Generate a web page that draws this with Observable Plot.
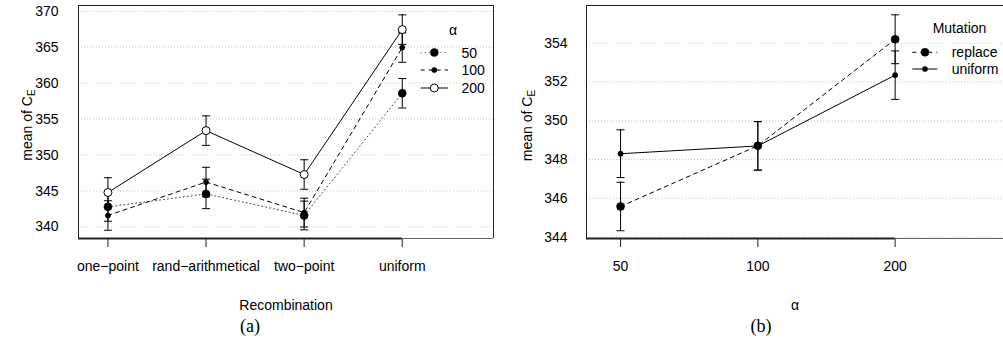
<!DOCTYPE html>
<html>
<head>
<meta charset="utf-8">
<script src="https://cdn.jsdelivr.net/npm/d3@7"></script>
<script src="https://cdn.jsdelivr.net/npm/@observablehq/plot@0.6"></script>
<style>
  html, body { margin: 0; padding: 0; background: white; overflow: hidden; }
  #wrap { position: relative; width: 1003px; height: 347px; overflow: hidden; background: white; }
  #wrap svg { position: absolute; top: 0; }
</style>
</head>
<body>
<div id="wrap"></div>
<script>
// ---------- data (a) ----------
const recombination = ["one−point", "rand−arithmetical", "two−point", "uniform"];
const mean50  = [342.8, 344.6, 341.6, 358.6];
const mean100 = [341.6, 346.25, 342.0, 364.95];
const mean200 = [344.8, 353.4, 347.3, 367.45];
const err50   = [2.0, 2.05, 2.0, 2.05];
const err100  = [2.05, 2.05, 2.0, 2.05];
const err200  = [2.05, 2.05, 2.05, 2.05];
const yTicksA = [340, 345, 350, 355, 360, 365, 370];
const legendA = ["50", "100", "200"];

// ---------- data (b) ----------
const alphaLevels = ["50", "100", "200"];
const meanReplace = [345.58, 348.71, 354.2];
const meanUniform = [348.3, 348.7, 352.35];
const errReplace  = [1.25, 1.25, 1.26];
const errUniform  = [1.23, 1.25, 1.25];
const yTicksB = [344, 346, 348, 350, 352, 354];
const legendB = ["replace", "uniform"];

const FONT = "'Liberation Sans', Arial, Helvetica, sans-serif";
const SERIF = "'Liberation Serif', 'DejaVu Serif', serif";

const rows = (means, errs) => means.map((m, i) => ({x: i + 1, y: m, lo: m - errs[i], hi: m + errs[i]}));
const capSym = {draw(ctx, size) { const w = Math.sqrt(size / Math.PI); ctx.moveTo(-w, 0); ctx.lineTo(w, 0); }};

function errorBars(data) {
  return [
    Plot.ruleX(data, {x: "x", y1: "lo", y2: "hi", stroke: "black", strokeWidth: 1}),
    Plot.dot(data, {x: "x", y: "lo", symbol: capSym, r: 4, stroke: "black", fill: "none", strokeWidth: 1}),
    Plot.dot(data, {x: "x", y: "hi", symbol: capSym, r: 4, stroke: "black", fill: "none", strokeWidth: 1})
  ];
}

function frameMarks(xd, yd, lastTick, rightSide) {
  const m = [
    Plot.ruleY([yd[1]], {x1: xd[0], x2: xd[1], stroke: "#222", strokeWidth: 1}),
    Plot.ruleY([yd[0]], {x1: xd[0], x2: xd[1], stroke: "#666", strokeWidth: 1}),
    Plot.ruleY([yd[0]], {x1: xd[0], x2: lastTick, stroke: "#222", strokeWidth: 2}),
    Plot.ruleX([xd[0]], {y1: yd[0], y2: yd[1], stroke: "#222", strokeWidth: 1})
  ];
  if (rightSide) m.push(Plot.ruleX([xd[1]], {y1: yd[0], y2: yd[1], stroke: "#222", strokeWidth: 1}));
  return m;
}

const wrap = document.getElementById("wrap");

// ================= Panel (a) =================
const xdA = [0.70, 4.93], ydA = [338.4, 370.8];
const d50 = rows(mean50, err50), d100 = rows(mean100, err100), d200 = rows(mean200, err200);
const plotA = Plot.plot({
  width: 500, height: 347,
  marginLeft: 78, marginRight: 7, marginTop: 5, marginBottom: 109,
  style: {fontFamily: FONT, fontSize: "14px", background: "white", overflow: "hidden"},
  x: {type: "linear", domain: xdA},
  y: {domain: ydA},
  marks: [
    Plot.gridY(yTicksA, {stroke: "#c8c8c8", strokeOpacity: 1, strokeDasharray: "1,2"}),
    Plot.axisY(yTicksA, {tickSize: 0, tickPadding: 20, fontSize: 14, label: null}),
    Plot.axisX([1, 2, 3, 4], {tickSize: 9, tickPadding: 14, fontSize: 14, label: null,
      tickFormat: i => recombination[i - 1], stroke: "#222"}),
    ...frameMarks(xdA, ydA, 4, true),
    Plot.line(d50,  {x: "x", y: "y", stroke: "#444", strokeWidth: 1, strokeDasharray: "1,3"}),
    Plot.line(d100, {x: "x", y: "y", stroke: "black", strokeWidth: 1, strokeDasharray: "4,4"}),
    Plot.line(d200, {x: "x", y: "y", stroke: "black", strokeWidth: 1}),
    ...errorBars(d50), ...errorBars(d100), ...errorBars(d200),
    Plot.dot(d50,  {x: "x", y: "y", r: 4, fill: "black", stroke: "black", strokeWidth: 0.5}),
    Plot.dot(d100, {x: "x", y: "y", r: 2.6, fill: "black", stroke: "black", strokeWidth: 0.5}),
    Plot.dot(d200, {x: "x", y: "y", r: 4, fill: "white", stroke: "black", strokeWidth: 1})
  ]
});
plotA.style.left = "0px";
wrap.appendChild(plotA);

// ================= Panel (b) =================
// frame continues past the right edge of the picture (cropped in the reference)
const xdB = [0.752, 3.913], ydB = [343.93, 355.94];
const dRep = rows(meanReplace, errReplace), dUni = rows(meanUniform, errUniform);
const plotB = Plot.plot({
  width: 520, height: 347,
  marginLeft: 86, marginRight: 0, marginTop: 5, marginBottom: 109,
  style: {fontFamily: FONT, fontSize: "14px", background: "white", overflow: "hidden"},
  x: {type: "linear", domain: xdB},
  y: {domain: ydB},
  marks: [
    Plot.gridY(yTicksB, {stroke: "#c8c8c8", strokeOpacity: 1, strokeDasharray: "1,2"}),
    Plot.axisY(yTicksB, {tickSize: 0, tickPadding: 19, fontSize: 14, label: null}),
    Plot.axisX([1, 2, 3], {tickSize: 9, tickPadding: 14, fontSize: 14, label: null,
      tickFormat: i => alphaLevels[i - 1], stroke: "#222"}),
    ...frameMarks(xdB, ydB, 3, false),
    Plot.line(dRep, {x: "x", y: "y", stroke: "black", strokeWidth: 1, strokeDasharray: "4,4"}),
    Plot.line(dUni, {x: "x", y: "y", stroke: "black", strokeWidth: 1}),
    ...errorBars(dRep), ...errorBars(dUni),
    Plot.dot(dRep, {x: "x", y: "y", r: 4, fill: "black", stroke: "black", strokeWidth: 0.5}),
    Plot.dot(dUni, {x: "x", y: "y", r: 2.6, fill: "black", stroke: "black", strokeWidth: 0.5})
  ]
});
plotB.style.left = "500px";
wrap.appendChild(plotB);

// ---------- annotations ----------
function txt(svg, x, y, s, opts = {}) {
  return d3.select(svg).append("text")
    .attr("x", x).attr("y", y)
    .attr("font-family", opts.family || FONT)
    .attr("font-size", opts.size || 14)
    .attr("text-anchor", opts.anchor || "start")
    .attr("fill", "black")
    .text(s);
}
function yTitle(svg, x, y) {
  const t = d3.select(svg).append("text")
    .attr("transform", `translate(${x},${y}) rotate(-90)`)
    .attr("font-family", FONT).attr("font-size", 14)
    .attr("text-anchor", "middle").attr("fill", "black");
  t.append("tspan").text("mean of C");
  t.append("tspan").attr("font-size", 10).attr("dy", 3).text("E");
}

// (a)
yTitle(plotA, 31.5, 125);
txt(plotA, 286, 310, "Recombination", {anchor: "middle"});
txt(plotA, 250, 332, "(a)", {anchor: "middle", family: SERIF, size: 18});
{
  const g = d3.select(plotA).append("g");
  txt(plotA, 453, 35, "α", {anchor: "middle"});
  const ys = [52.5, 70, 88];
  const dash = ["1,3", "4,4", null];
  legendA.forEach((lab, i) => {
    const l = g.append("line").attr("x1", 420.7).attr("x2", 448).attr("y1", ys[i]).attr("y2", ys[i])
      .attr("stroke", i === 0 ? "#444" : "black").attr("stroke-width", 1);
    if (dash[i]) l.attr("stroke-dasharray", dash[i]);
    g.append("circle").attr("cx", 434.3).attr("cy", ys[i]).attr("r", i === 1 ? 2.6 : 4)
      .attr("fill", i === 2 ? "white" : "black").attr("stroke", "black").attr("stroke-width", i === 2 ? 1 : 0.5);
    txt(plotA, 461.5, ys[i] + 5.2, lab);
  });
}

// (b)  (coordinates relative to svg placed at left 500)
yTitle(plotB, 31.5, 125.5);
txt(plotB, 295, 310, "α", {anchor: "middle"});
txt(plotB, 261, 332, "(b)", {anchor: "middle", family: SERIF, size: 18});
{
  const g = d3.select(plotB).append("g");
  txt(plotB, 459.5, 33.3, "Mutation", {anchor: "middle"});
  const ys = [52.3, 69];
  legendB.forEach((lab, i) => {
    const l = g.append("line").attr("x1", 412.3).attr("x2", 437.3).attr("y1", ys[i]).attr("y2", ys[i])
      .attr("stroke", "black").attr("stroke-width", 1);
    if (i === 0) l.attr("stroke-dasharray", "4,4");
    g.append("circle").attr("cx", 425).attr("cy", ys[i]).attr("r", i === 0 ? 4 : 2.6)
      .attr("fill", "black").attr("stroke", "black").attr("stroke-width", 0.5);
    txt(plotB, 451.7, ys[i] + 4.6, lab);
  });
}
</script>
</body>
</html>
